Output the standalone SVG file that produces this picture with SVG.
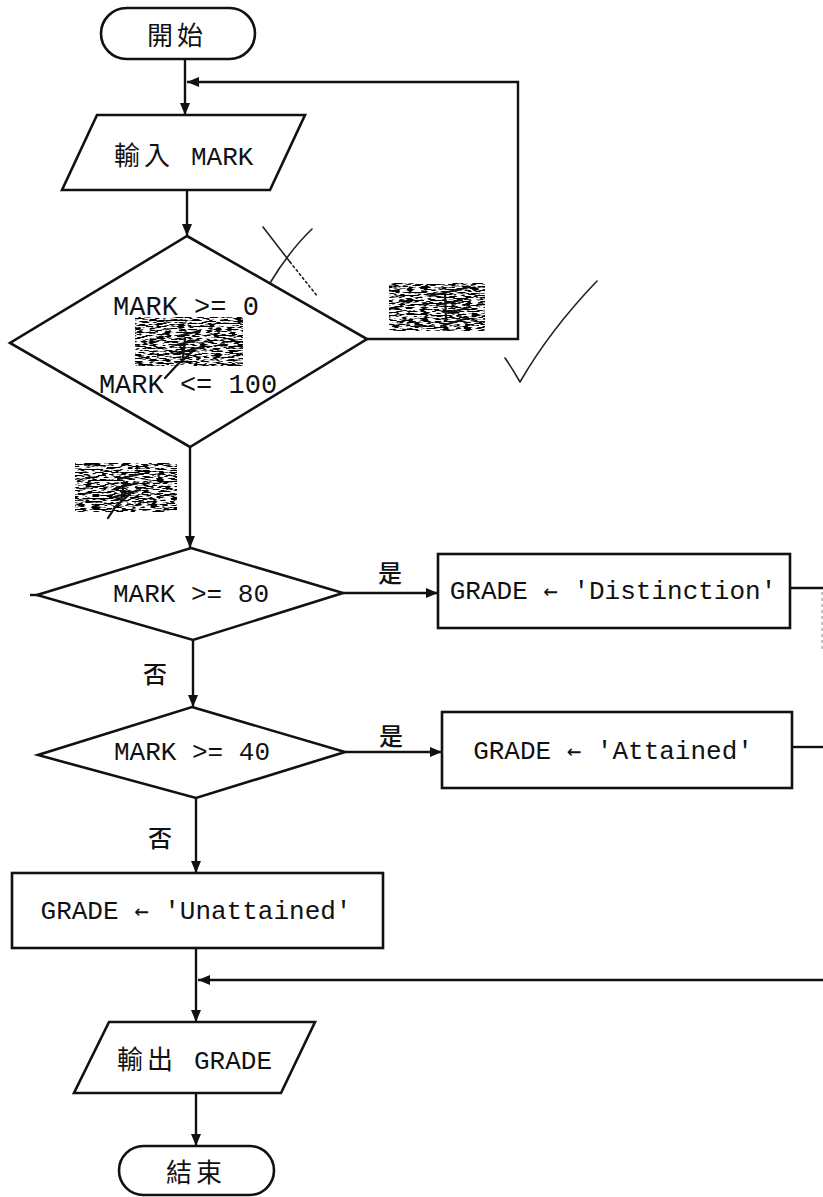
<svg xmlns="http://www.w3.org/2000/svg" width="823" height="1197" viewBox="0 0 823 1197">
  <style>
    .shape { fill: #fff; stroke: #111; stroke-width: 2.6; stroke-linejoin: miter; }
    .wire { fill: none; stroke: #111; stroke-width: 2.4; }
    .mono { font-family: "Liberation Mono", "Courier New", "Noto Sans CJK TC", monospace; font-size: 26px; fill: #111; }
    .big { font-size: 27px; }
    .arr { font-family: "DejaVu Sans Mono", monospace; font-size: 24px; }
    .cjk { font-family: "Noto Sans CJK TC", "Noto Sans CJK SC", sans-serif; font-size: 26px; fill: #111; }
    .lbl { font-family: "Noto Sans CJK TC", "Noto Sans CJK SC", sans-serif; font-size: 24px; font-weight: 500; fill: #111; }
    .pen { fill: none; stroke: #222; stroke-width: 1.6; stroke-linecap: round; stroke-linejoin: round; }
    .scrawl { fill: none; stroke: #111; stroke-width: 2.2; stroke-linecap: round; }
  </style>
  <defs>
    <marker id="arrow" viewBox="0 0 12 10" refX="12" refY="5" markerUnits="userSpaceOnUse" markerWidth="12" markerHeight="11" orient="auto">
      <path d="M0,0 L12,5 L0,10 z" fill="#111"/>
    </marker>
    <!-- speckled texture for the smudged patches -->
    <filter id="grain" x="0" y="0" width="100%" height="100%">
      <feTurbulence type="fractalNoise" baseFrequency="0.14 0.65" numOctaves="2" seed="11" result="noise"/>
      <feColorMatrix in="noise" type="matrix" values="0 0 0 0 0  0 0 0 0 0  0 0 0 0 0  -8 0 0 0 4.4" result="ink"/>
      <feComposite in="ink" in2="SourceGraphic" operator="in"/>
    </filter>
  </defs>

  <rect width="823" height="1197" fill="#fff"/>

  <!-- connectors -->
  <g id="connectors">
    <path class="wire" d="M185,60 V115" marker-end="url(#arrow)"/>
    <path class="wire" d="M187,190 V236" marker-end="url(#arrow)"/>
    <path class="wire" d="M367,339 H518 V82 H187" marker-end="url(#arrow)"/>
    <path class="wire" d="M190,447 V548" marker-end="url(#arrow)"/>
    <path class="wire" d="M343,593 H438" marker-end="url(#arrow)"/>
    <path class="wire" d="M193,640 V707" marker-end="url(#arrow)"/>
    <path class="wire" d="M345,752 H442" marker-end="url(#arrow)"/>
    <path class="wire" d="M196,798 V873" marker-end="url(#arrow)"/>
    <path class="wire" d="M196,948 V1022" marker-end="url(#arrow)"/>
    <path class="wire" d="M196,1093 V1146" marker-end="url(#arrow)"/>
    <path class="wire" d="M790,588 H823"/>
    <path class="wire" d="M792,747 H823"/>
    <path class="wire" d="M823,980 H198" marker-end="url(#arrow)"/>
    <path d="M822,592 V652" fill="none" stroke="#888" stroke-width="1" stroke-dasharray="3 3"/>
    <path class="wire" d="M30,595 H38"/>
    <text class="lbl" x="390" y="582" text-anchor="middle">是</text>
    <text class="lbl" x="155" y="683" text-anchor="middle">否</text>
    <text class="lbl" x="391" y="745" text-anchor="middle">是</text>
    <text class="lbl" x="160" y="847" text-anchor="middle">否</text>
  </g>

  <g id="start">
    <rect class="shape" x="101" y="8" width="154" height="51" rx="25.5"/>
    <text class="cjk" x="177" y="45" text-anchor="middle" letter-spacing="4">開始</text>
  </g>

  <g id="input-mark">
    <polygon class="shape" points="97,115 305,115 270,190 62,190"/>
    <text y="165"><tspan class="cjk" x="114" letter-spacing="4">輸入</tspan><tspan class="mono" x="191">MARK</tspan></text>
  </g>

  <g id="check-range">
    <polygon class="shape" points="187,236 367,339 190,447 10,343"/>
    <text class="mono big" x="186" y="315" text-anchor="middle">MARK &gt;= 0</text>
    <text class="mono big" x="188" y="393" text-anchor="middle">MARK &lt;= 100</text>
  </g>

  <g id="check-80">
    <polygon class="shape" points="191,548 343,593 193,640 37,595"/>
    <text class="mono" x="191" y="602" text-anchor="middle">MARK &gt;= 80</text>
  </g>

  <g id="grade-distinction">
    <rect class="shape" x="438" y="554" width="352" height="74"/>
    <text class="mono" x="613" y="599" text-anchor="middle">GRADE <tspan class="arr">←</tspan> 'Distinction'</text>
  </g>

  <g id="check-40">
    <polygon class="shape" points="192,707 345,752 196,798 38,755"/>
    <text class="mono" x="192" y="760" text-anchor="middle">MARK &gt;= 40</text>
  </g>

  <g id="grade-attained">
    <rect class="shape" x="442" y="712" width="350" height="76"/>
    <text class="mono" x="613" y="759" text-anchor="middle">GRADE <tspan class="arr">←</tspan> 'Attained'</text>
  </g>

  <g id="grade-unattained">
    <rect class="shape" x="12" y="873" width="371" height="75"/>
    <text class="mono" x="196" y="919" text-anchor="middle">GRADE <tspan class="arr">←</tspan> 'Unattained'</text>
  </g>

  <g id="output-grade">
    <polygon class="shape" points="109,1022 315,1022 281,1093 74,1093"/>
    <text y="1069"><tspan class="cjk" x="117" letter-spacing="4">輸出</tspan><tspan class="mono" x="194">GRADE</tspan></text>
  </g>

  <g id="end">
    <rect class="shape" x="119" y="1146" width="155" height="49" rx="24.5"/>
    <text class="cjk" x="196" y="1182" text-anchor="middle" letter-spacing="4">結束</text>
  </g>

  <!-- smudged patches with pen scribbles -->
  <g id="smudges">
    <rect x="135" y="317" width="108" height="49" fill="#fff" filter="url(#grain)"/>
    <rect x="389" y="283" width="96" height="48" fill="#fff" filter="url(#grain)"/>
    <rect x="75" y="463" width="102" height="49" fill="#fff" filter="url(#grain)"/>
    <path class="scrawl" d="M178,336 L200,331 M176,345 L198,340 M174,354 L202,347 M185,338 L183,358 M192,352 L178,364 L165,378"/>
    <path class="scrawl" d="M430,296 L470,287 M437,305 L462,300 M445,292 L446,320 M448,313 L470,307 M441,326 L468,318"/>
    <path class="scrawl" d="M118,479 L140,474 M116,488 L138,483 M114,497 L140,490 M124,482 L121,502 M130,494 L116,506 L108,518"/>
  </g>

  <!-- pen marks -->
  <g id="pen-marks">
    <path class="pen" d="M263,227 L290,262" />
    <path class="pen" d="M290,262 L318,297" stroke-dasharray="2 3"/>
    <path class="pen" d="M312,229 Q290,250 270,283"/>
    <path class="pen" d="M505,358 Q512,368 520,382 Q550,330 597,281"/>
  </g>
</svg>
